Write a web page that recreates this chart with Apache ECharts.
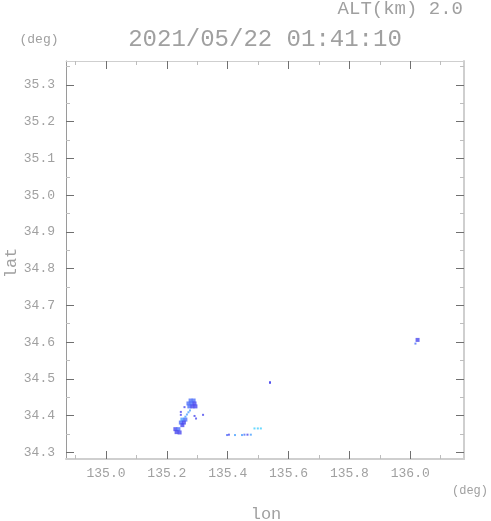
<!DOCTYPE html>
<html><head><meta charset="utf-8">
<script src="https://cdn.jsdelivr.net/npm/echarts@6/dist/echarts.min.js"></script>
<style>html,body{margin:0;padding:0;background:#fff}#c{width:491px;height:521px}</style>
</head><body><div id="c"></div>
<script>
// ---- data ----
const xMajor = [135.0, 135.2, 135.4, 135.6, 135.8, 136.0];
const xMinor = [134.9, 135.1, 135.3, 135.5, 135.7, 135.9, 136.1];
const yMajor = [34.3, 34.4, 34.5, 34.6, 34.7, 34.8, 34.9, 35.0, 35.1, 35.2, 35.3];
const yMinor = [34.35, 34.45, 34.55, 34.65, 34.75, 34.85, 34.95, 35.05, 35.15, 35.25, 35.35];
const xRange = [134.8686, 136.1766];
const yRange = [34.2818, 35.3653];

// larger echo cells
const cellLon = [135.278, 135.288, 135.271, 135.281, 135.291, 135.274, 135.284, 135.294,
                 135.251, 135.261, 135.246, 135.256, 135.251,
                 135.228, 135.238, 135.232, 135.242, 136.024];
const cellLat = [34.441, 34.441, 34.433, 34.433, 34.433, 34.425, 34.425, 34.425,
                 34.389, 34.389, 34.381, 34.381, 34.374,
                 34.363, 34.363, 34.355, 34.354, 34.606];
const cellLevel = [3, 3, 3, 3, 4, 3, 4, 4,
                   2, 3, 3, 4, 4,
                   4, 3, 4, 4, 4];
// small echo specks
const speckLon = [135.276, 135.271, 135.266, 135.261, 135.246, 135.246, 135.291, 135.296, 135.258, 135.319,
                  135.398, 135.404, 135.424, 135.447, 135.455, 135.465, 135.476, 135.488, 135.499, 135.509,
                  135.539, 135.539, 136.017];
const speckLat = [34.414, 34.409, 34.403, 34.397, 34.410, 34.402, 34.399, 34.392, 34.423, 34.402,
                  34.347, 34.348, 34.347, 34.347, 34.348, 34.348, 34.348, 34.365, 34.365, 34.365,
                  34.489, 34.491, 34.596];
const speckLevel = [2, 2, 2, 2, 4, 4, 4, 4, 4, 4,
                    3, 4, 2, 2, 3, 4, 2, 1, 1, 1,
                    4, 4, 3];

// ---- styles ----
const levelColors = ['#44d0ff', '#4aa0ff', '#4f70fa', '#4b4aee'];
const txt = '#a0a0a0';
const FONT = 'Liberation Mono';

function xAx(pos, vals, len, tickColor, label, line) {
  return {
    type: 'value', position: pos, min: xRange[0], max: xRange[1], scale: true,
    axisLine: line ? { show: true, onZero: false, lineStyle: line } : { show: false },
    axisTick: { show: true, inside: true, length: len, lineStyle: { color: tickColor, width: 1 }, customValues: vals },
    axisLabel: { show: label, customValues: vals, margin: 8, color: txt, fontFamily: FONT, fontSize: 13,
                 formatter: v => Number(v).toFixed(1) },
    splitLine: { show: false }
  };
}
function yAx(pos, vals, len, tickColor, label, line) {
  return {
    type: 'value', position: pos, min: yRange[0], max: yRange[1], scale: true,
    axisLine: line ? { show: true, onZero: false, lineStyle: line } : { show: false },
    axisTick: { show: true, inside: true, length: len, lineStyle: { color: tickColor, width: 1 }, customValues: vals },
    axisLabel: { show: label, customValues: vals, margin: 11, color: txt, fontFamily: FONT, fontSize: 13,
                 formatter: v => Number(v).toFixed(1) },
    splitLine: { show: false }
  };
}

const chart = echarts.init(document.getElementById('c'));
chart.setOption({
  animation: false,
  backgroundColor: '#fff',
  grid: { left: 66, right: 27, top: 61, bottom: 62 },
  xAxis: [
    xAx('bottom', xMajor, 8, '#707070', true, { color: '#cfcfcf', width: 2 }),
    xAx('bottom', xMinor, 4, '#bdbdbd', false, null),
    xAx('top', xMajor, 8, '#707070', false, { color: '#cfcfcf', width: 1 }),
    xAx('top', xMinor, 4, '#bdbdbd', false, null)
  ],
  yAxis: [
    yAx('left', yMajor, 8, '#707070', true, { color: '#9a9a9a', width: 1 }),
    yAx('left', yMinor, 4, '#bdbdbd', false, null),
    yAx('right', yMajor, 8, '#707070', false, { color: '#cfcfcf', width: 2 }),
    yAx('right', yMinor, 4, '#bdbdbd', false, null)
  ],
  series: [
    {
      type: 'scatter', xAxisIndex: 0, yAxisIndex: 0, symbol: 'rect', symbolSize: 4,
      data: cellLon.map((x, i) => [x, cellLat[i], cellLevel[i]]),
      itemStyle: { color: p => levelColors[p.value[2] - 1] }
    },
    {
      type: 'scatter', xAxisIndex: 0, yAxisIndex: 0, symbol: 'rect', symbolSize: 2,
      data: speckLon.map((x, i) => [x, speckLat[i], speckLevel[i]]),
      itemStyle: { color: p => levelColors[p.value[2] - 1] }
    }
  ],
  graphic: [
    { type: 'text', x: 463, y: 9, style: { text: 'ALT(km) 2.0', fill: txt, font: '19px "Liberation Mono"', textAlign: 'right', textVerticalAlign: 'middle' } },
    { type: 'text', x: 265, y: 40, style: { text: '2021/05/22 01:41:10', fill: txt, font: '24px "Liberation Mono"', textAlign: 'center', textVerticalAlign: 'middle' } },
    { type: 'text', x: 39, y: 40, style: { text: '(deg)', fill: txt, font: '13px "Liberation Mono"', textAlign: 'center', textVerticalAlign: 'middle' } },
    { type: 'text', x: 470, y: 491, style: { text: '(deg)', fill: txt, font: '12px "Liberation Mono"', textAlign: 'center', textVerticalAlign: 'middle' } },
    { type: 'text', x: 266, y: 514, style: { text: 'lon', fill: txt, font: '17px "Liberation Mono"', textAlign: 'center', textVerticalAlign: 'middle' } },
    { type: 'text', x: 11, y: 263, rotation: Math.PI / 2, style: { text: 'lat', fill: txt, font: '17px "Liberation Mono"', textAlign: 'center', textVerticalAlign: 'middle' } }
  ]
});
</script>
</body></html>
